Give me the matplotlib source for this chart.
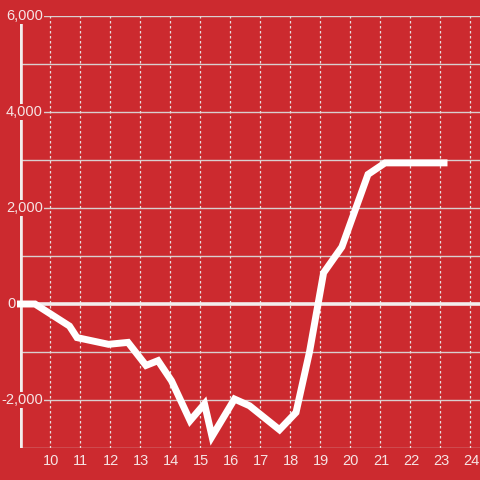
import matplotlib
matplotlib.use("Agg")
import matplotlib.pyplot as plt
import matplotlib.transforms as mtransforms

hours = [8.9, 9.5, 10.65, 10.9, 11.95, 12.6, 13.2, 13.6, 14.05, 14.67, 15.15, 15.4,
         16.15, 16.65, 17.65, 18.2, 18.65, 19.12, 19.73, 20.6, 21.17, 23.25]
values = [0, 0, -460, -700, -840, -800, -1280, -1180, -1600, -2430, -2080, -2760,
          -1980, -2120, -2620, -2260, -1000, 650, 1190, 2700, 2940, 2940]

xticks = list(range(10, 25))
yticks_major = [6000, 4000, 2000, 0, -2000]
ygrid = [-3000, -2000, -1000, 1000, 2000, 3000, 4000, 5000, 6000]

bg = "#cc2a2f"
txt = "#f6e4e4"

fig = plt.figure(figsize=(4.8, 4.8), dpi=100, facecolor=bg)
ax = fig.add_axes([20/480, 32/480, 460/480, 432/480])
ax.set_facecolor(bg)
ax.set_xlim(9.0, 9.0 + 460/30)
ax.set_ylim(-3000, 6000)
for s in ax.spines.values():
    s.set_visible(False)
ax.set_xticks([])
ax.set_yticks([])

for y in ygrid:
    ax.axhline(y, color="#d9cfcf", lw=1.0, zorder=1)
for x in xticks:
    ax.axvline(x, color="#e6dede", lw=0.9, ls=(0, (2, 2)), zorder=1)
ax.axhline(0, color="#f3eded", lw=2.6, zorder=2)
ax.axvline(9.0 + 1/30, ymin=0, ymax=1 - 8/432, color="#f3eded", lw=2.6, zorder=2)

trans_y = mtransforms.blended_transform_factory(fig.transFigure, ax.transData)
for y in yticks_major:
    xr = 16/480 if y == 0 else 43/480
    ax.text(xr, y, f"{y:,}", transform=trans_y, ha="right", va="center",
            fontsize=10.5, color=txt, family="Liberation Sans", zorder=3,
            bbox=None if y == 0 else dict(facecolor=bg, edgecolor="none", pad=1.0))

ax.plot(hours, values, color="white", lw=5.0, solid_joinstyle="miter",
        solid_capstyle="butt", zorder=4, clip_on=False)

trans_x = mtransforms.blended_transform_factory(ax.transData, fig.transFigure)
for x in xticks:
    ax.text(x + 0.03, 1 - 461/480, str(x), transform=trans_x, ha="center", va="center",
            fontsize=10.5, color=txt, family="Liberation Sans", clip_on=False)

fig.savefig("out.png", dpi=100, facecolor=bg)
